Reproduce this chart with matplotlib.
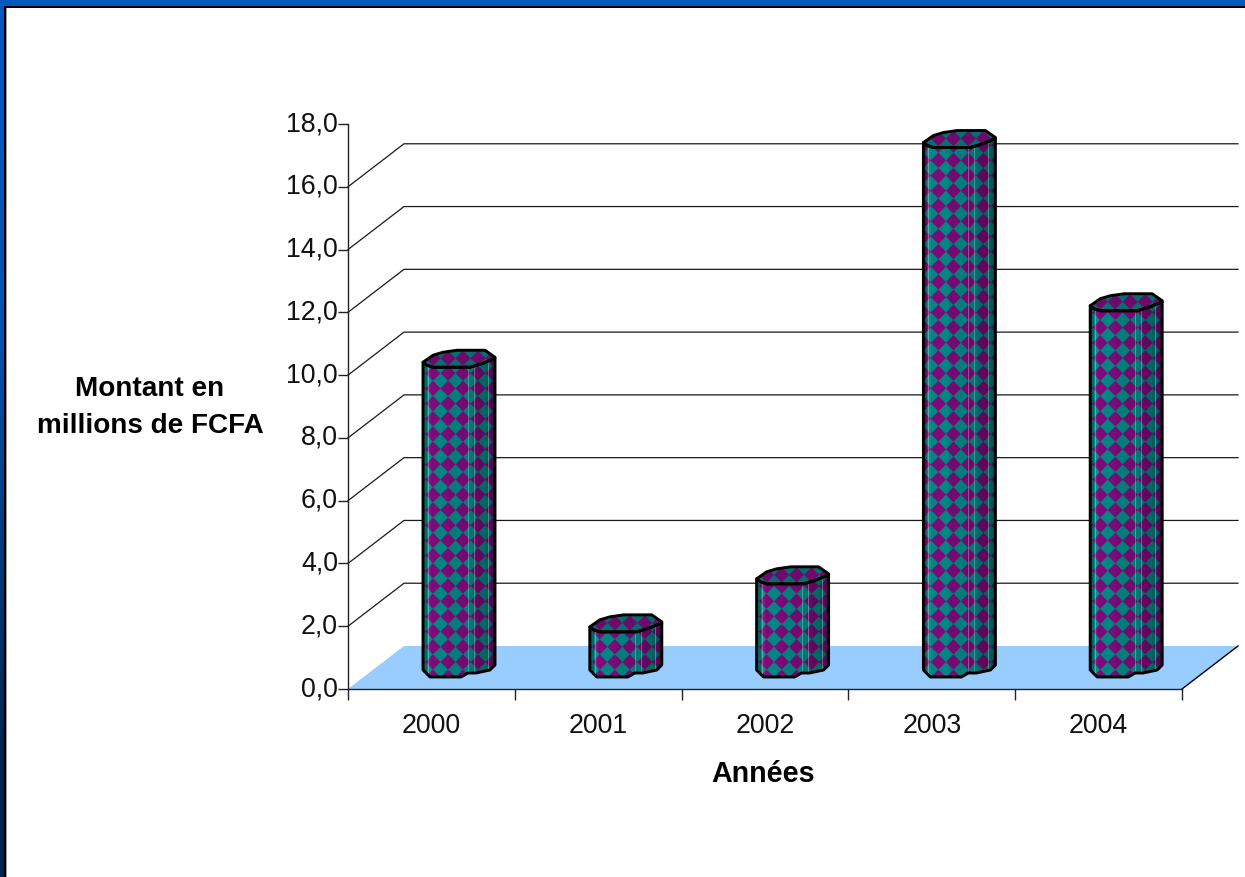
"""Redraw the 3D style column chart of yearly amounts."""

import matplotlib
matplotlib.use("Agg")
import matplotlib.pyplot as plt
from matplotlib.collections import PolyCollection
from matplotlib.patches import Polygon, Rectangle
import numpy as np

# Section: chart values.
years = ["2000", "2001", "2002", "2003", "2004"]
amounts = [9.9, 1.47, 3.0, 16.9, 11.7]
y_ticks = [0, 2, 4, 6, 8, 10, 12, 14, 16, 18]
y_tick_labels = ["0,0", "2,0", "4,0", "6,0", "8,0", "10,0", "12,0", "14,0", "16,0", "18,0"]

# Section: layout in pixels of the 1245x877 picture.
W, H = 1245, 877
LEFT, RIGHT, BASE, TOP = 348, 1182, 689, 124
PX_X = 5 / (RIGHT - LEFT)
PX_Y = 18 / (BASE - TOP)
DEPTH_X = 56 * PX_X
DEPTH_Y = 43 * PX_Y
BAR_OFFSET = 75 * PX_X
BAR_LIFT = 11 * PX_Y
LATTICE_SHIFT = [10, 10, 10, 15, 10]
TEAL = "#038584"
PURPLE = "#7c0a78"

plt.rcParams["font.family"] = ["Liberation Sans", "DejaVu Sans"]

fig = plt.figure(figsize=(W / 100, H / 100), dpi=100, facecolor="white")
ax = fig.add_axes([LEFT / W, (H - BASE) / H, (RIGHT - LEFT) / W, (BASE - TOP) / H])
ax.set_xlim(0, len(years))
ax.set_ylim(0, 18)
ax.patch.set_visible(False)
for side in ["top", "right"]:
    ax.spines[side].set_visible(False)
for side in ["left", "bottom"]:
    ax.spines[side].set_linewidth(1.0)
    ax.spines[side].set_color("#222222")

ax.set_yticks(y_ticks, [])
ax.set_xticks(np.arange(len(years) + 1))
ax.set_xticklabels([])
ax.tick_params(axis="y", length=7.5, width=1.0, color="#222222")
ax.tick_params(axis="x", length=8, width=1.0, color="#222222")
for tick, label in zip(y_ticks, y_tick_labels):
    ax.text(-10 * PX_X, tick, label, ha="right", va="center", fontsize=19.3,
            color="#111111", clip_on=False)
for i, year in enumerate(years):
    ax.text(i + 0.5, -37 * PX_Y, year, ha="center", va="center", fontsize=19.3,
            color="#111111", clip_on=False)


# Section: floor, back wall gridlines and side wall diagonals.
floor = Polygon(
    [(0, 0), (5, 0), (5 + DEPTH_X, DEPTH_Y), (DEPTH_X, DEPTH_Y)],
    closed=True, facecolor="#99ccff", edgecolor="none", clip_on=False, zorder=1,
)
ax.add_patch(floor)
ax.plot([5, 5 + DEPTH_X], [0, DEPTH_Y], color="black", lw=1.0, clip_on=False, zorder=2)
for tick in y_ticks[1:-1]:
    ax.plot([0, DEPTH_X, 5 + DEPTH_X], [tick, tick + DEPTH_Y, tick + DEPTH_Y],
            color="#1a1a1a", lw=0.9, clip_on=False, zorder=1)


# Section: one faceted column with a diamond fill.
def diamonds(x1, y0, y1, anchor_x, anchor_y):
    step_x = 15 * PX_X
    step_y = 15.2 * PX_Y
    half_x = step_x * 0.5
    half_y = step_y * 0.5
    polys = []
    for cx in np.arange(anchor_x - step_x, x1 + step_x, step_x):
        k = np.floor((y0 - anchor_y) / step_y)
        cy = anchor_y + k * step_y
        while cy < y1 + step_y:
            polys.append([(cx - half_x, cy), (cx, cy + half_y), (cx + half_x, cy), (cx, cy - half_y)])
            cy += step_y
    return polys


def draw_column(i, value):
    x0 = i + BAR_OFFSET
    y_base = BAR_LIFT
    y_top = value + BAR_LIFT

    def px(dx, dy, level):
        return (x0 + dx * PX_X, level + dy * PX_Y)

    front_top = [px(0, 5, y_top), px(4, 2, y_top), px(10, 0, y_top), px(47, 0, y_top),
                 px(60, 4, y_top), px(72, 9, y_top)]
    body = front_top + [px(72, 13, y_base), px(67, 8, y_base), px(53, 5, y_base), px(45, 5, y_base),
                        px(38, 1, y_base), px(7, 1, y_base), px(0, 8, y_base)]
    top = [px(0, 5, y_top), px(10, 12, y_top), px(20, 15, y_top), px(34, 17, y_top),
           px(62, 17, y_top), px(72, 10, y_top)] + front_top[::-1][:-1]

    body_patch = Polygon(body, closed=True, facecolor=TEAL, edgecolor="none", clip_on=False, zorder=3)
    ax.add_patch(body_patch)
    shift = LATTICE_SHIFT[i]
    lattice = PolyCollection(diamonds(x0 + 72 * PX_X, y_base, y_top + 18 * PX_Y,
                                      x0 + shift * PX_X, y_base + 16 * PX_Y),
                             facecolors=PURPLE, edgecolors="none", zorder=4)
    ax.add_collection(lattice, autolim=False)
    lattice.set_clip_path(body_patch)

    # Vertical facets: (start, end, colour, opacity) in pixels from the column's left edge.
    facets = [(0, 4, "black", 0.22), (4, 8, "white", 0.05), (26, 44, "black", 0.06),
              (44, 50, "black", 0.10), (50, 55, "black", 0.16), (55, 62, "black", 0.22),
              (62, 68, "black", 0.28), (68, 72, "black", 0.36)]
    for start, end, colour, alpha in facets:
        strip = Rectangle((x0 + start * PX_X, y_base - 2), (end - start) * PX_X, value + 4,
                          facecolor=colour, alpha=alpha, edgecolor="none", zorder=5)
        ax.add_patch(strip)
        strip.set_clip_path(body_patch)
    for pos in [5, 45, 51, 65]:
        line = ax.plot([x0 + pos * PX_X] * 2, [y_base - 2, y_top + 2], color="white",
                       alpha=0.3, lw=0.7, zorder=6)[0]
        line.set_clip_path(body_patch)

    top_patch = Polygon(top, closed=True, facecolor="#056e6e", edgecolor="none", clip_on=False, zorder=7)
    ax.add_patch(top_patch)
    top_lattice = PolyCollection(diamonds(x0 + 72 * PX_X, y_top, y_top + 18 * PX_Y,
                                          x0 + shift * PX_X, y_top + 9 * PX_Y),
                                 facecolors="#6e0a6c", edgecolors="none", zorder=8)
    ax.add_collection(top_lattice, autolim=False)
    top_lattice.set_clip_path(top_patch)

    for shape in (body, top):
        ax.add_patch(Polygon(shape, closed=True, facecolor="none", edgecolor="black", lw=2.1,
                             joinstyle="round", clip_on=False, zorder=9))


for i, value in enumerate(amounts):
    draw_column(i, value)


# Section: axis titles, written as free text in the positions of the original.
fig.text(150 / W, 1 - 389 / H, "Montant en", ha="center", va="center", fontsize=20.1, fontweight="bold")
fig.text(150 / W, 1 - 426 / H, "millions de FCFA", ha="center", va="center", fontsize=20.1, fontweight="bold")
fig.text(763 / W, 1 - 774 / H, "Années", ha="center", va="center", fontsize=20.6, fontweight="bold")


# Section: blue window frame along the top and left edges.
frame = fig.add_axes([0, 0, 1, 1], zorder=10)
frame.set_xlim(0, W)
frame.set_ylim(H, 0)
frame.axis("off")
left_colors = np.array([[[0, 90, 190]], [[0, 85, 180]], [[0, 60, 125]], [[0, 35, 80]]], dtype=np.uint8)
frame.imshow(left_colors, extent=[0, 4, H, 0], aspect="auto", interpolation="bilinear")
frame.add_patch(Rectangle((0, 0), W, 5.5, facecolor="#005abe", edgecolor="none"))
frame.add_patch(Rectangle((4, 5.5), W, 2.5, facecolor="black", edgecolor="none"))
frame.add_patch(Rectangle((4, 5.5), 2, H, facecolor="black", edgecolor="none"))
frame.add_patch(Rectangle((6, 8), 1, H, facecolor="#999999", edgecolor="none"))
frame.set_xlim(0, W)
frame.set_ylim(H, 0)

fig.savefig("out.png", dpi=100)
